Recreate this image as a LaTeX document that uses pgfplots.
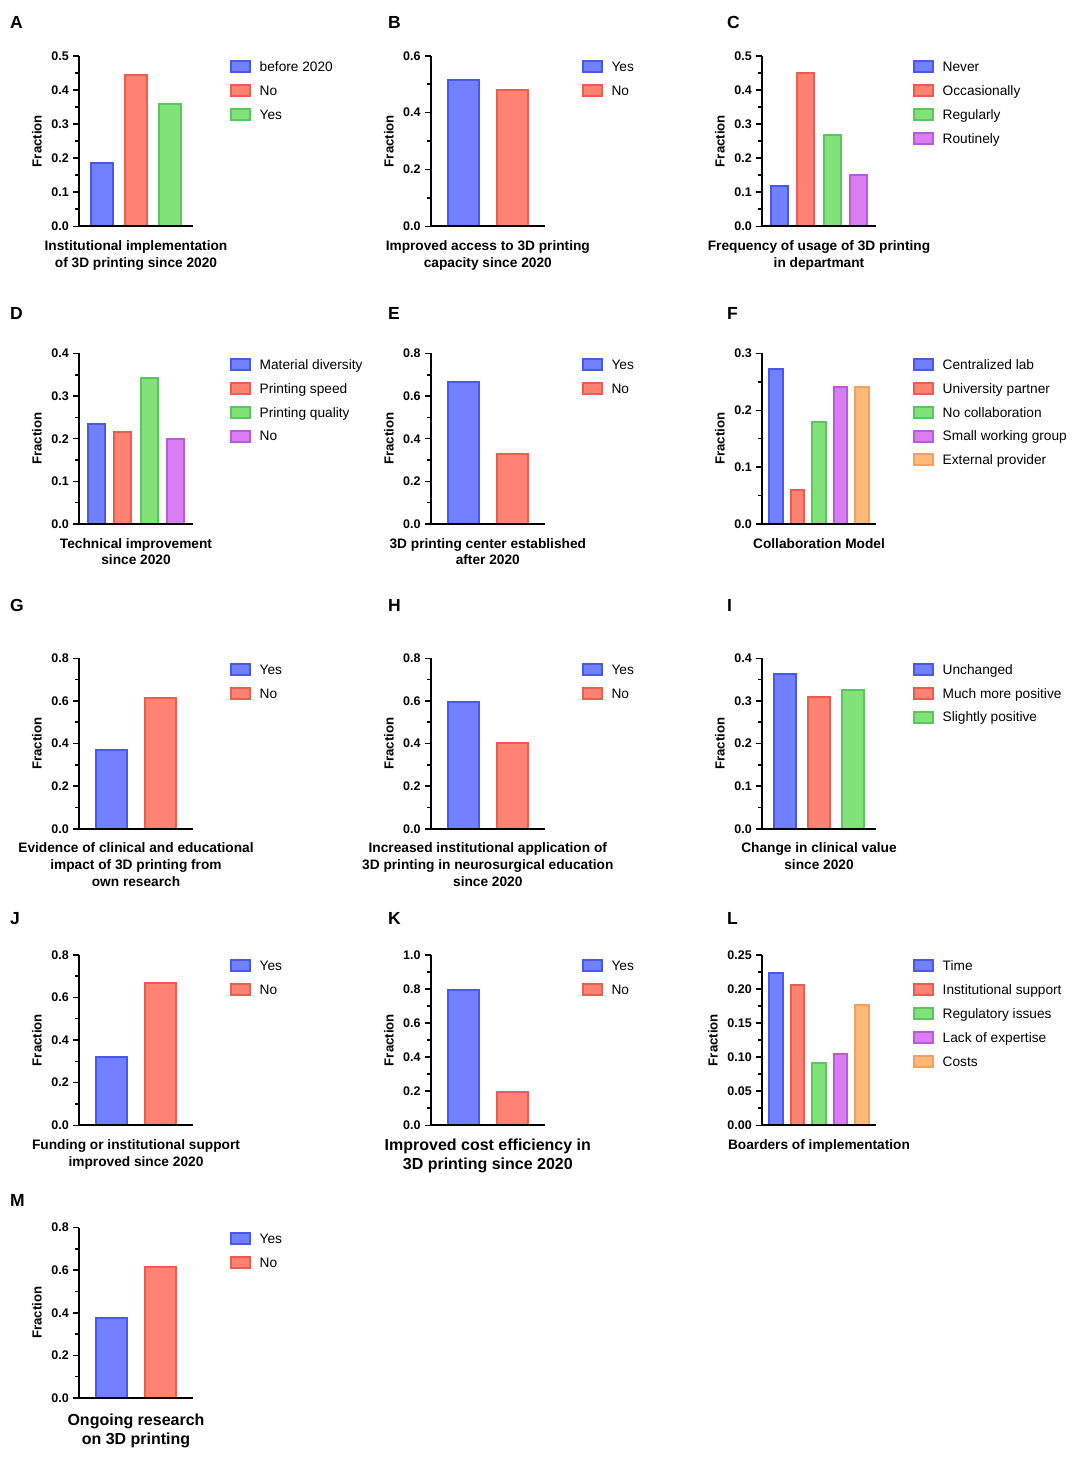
\documentclass[border=0pt]{standalone}
\usepackage{fontspec}
\setmainfont{Liberation Sans}
\usepackage{pgfplots}
\pgfplotsset{compat=1.18}
\definecolor{blueF}{RGB}{112,128,255}\definecolor{blueE}{RGB}{72,88,235}
\definecolor{redF}{RGB}{255,130,115}\definecolor{redE}{RGB}{238,92,80}
\definecolor{greenF}{RGB}{130,226,122}\definecolor{greenE}{RGB}{88,200,92}
\definecolor{purpF}{RGB}{216,126,242}\definecolor{purpE}{RGB}{188,88,222}
\definecolor{orangeF}{RGB}{255,186,122}\definecolor{orangeE}{RGB}{245,160,92}
\newcommand\ticksize{\fontsize{12.5}{14}\selectfont\bfseries}
\newcommand\labsize{\fontsize{13.7}{16.8}\selectfont\bfseries}
\newcommand\fracsize{\fontsize{13.2}{15}\selectfont\bfseries}
\newcommand\legsize{\fontsize{13.7}{16}\selectfont}
\newcommand\biglab{\fontsize{16}{19}\selectfont\bfseries}
\newcommand\letsize{\fontsize{17.5}{20}\selectfont\bfseries}
\pgfplotsset{
  bar/.style={ybar, bar width=0.64, bar shift=0pt, line width=2pt,
    legend image code/.code={\draw[##1, line width=2pt] (0pt,-5.5pt) rectangle (19pt,5.5pt);}},
  bB/.style={bar, fill=blueF, draw=blueE},
  bR/.style={bar, fill=redF, draw=redE},
  bG/.style={bar, fill=greenF, draw=greenE},
  bP/.style={bar, fill=purpF, draw=purpE},
  bO/.style={bar, fill=orangeF, draw=orangeE},
  panel/.style={
    scale only axis, width=114pt, height=170.5pt, anchor=south west,
    xmin=-0.6667, ymin=0, enlargelimits=false, clip=false, axis on top,
    axis x line*=bottom, axis y line*=left,
    axis line style={line width=2pt, black},
    xtick=\empty, minor y tick num=1,
    tick align=outside, major tick length=6pt, minor tick length=4pt,
    major tick style={line width=1.5pt, black},
    minor tick style={line width=1.5pt, black},
    yticklabel style={font=\ticksize, inner sep=0pt, xshift=-4pt},
    /pgf/number format/.cd, fixed, fixed zerofill, precision=1, assume math mode=true, /pgfplots/.cd,
    ylabel={Fraction},
    ylabel style={at={(axis description cs:-0.3684,0.5)}, anchor=center, font=\fracsize},
    xlabel style={at={(axis description cs:0.5,0)}, anchor=north, yshift=-14pt, align=center, font=\labsize, inner sep=0pt},
    legend style={at={(axis description cs:1.3246,0.9736)}, anchor=north west, draw=none, fill=none,
      font=\legsize, inner sep=0pt, row sep=10.8pt, column sep=8.5pt,
      nodes={inner sep=0pt, text height=11.4pt, text depth=1.6pt}},
    legend cell align=left,
  },
}
\begin{document}
\begin{tikzpicture}
\useasboundingbox (0,0) rectangle (1080pt,1458pt);
% panel letters
\foreach \l/\x/\y in {A/10/1429.2, B/388/1429.2, C/727/1429.2,
                      D/10/1138.7, E/388/1138.7, F/727/1138.7,
                      G/10/846.7, H/388/846.7, I/727/846.7,
                      J/10/533.7, K/388/533.7, L/727/533.7, M/10/251.7}
  \node[anchor=base west, inner sep=0pt, font=\letsize] at (\x pt,\y pt) {\l};

% A
\begin{axis}[panel, at={(79pt,1231.7pt)}, xmax=2.6667, ymax=0.5, ytick={0,0.1,0.2,0.3,0.4,0.5},
  xlabel={Institutional implementation\\of 3D printing since 2020}]
\addplot[bB] coordinates {(0,0.187)}; \addlegendentry{before 2020}
\addplot[bR] coordinates {(1,0.444)}; \addlegendentry{No}
\addplot[bG] coordinates {(2,0.358)}; \addlegendentry{Yes}
\end{axis}
% B
\begin{axis}[panel, at={(430.8pt,1231.7pt)}, xmax=1.6667, ymax=0.6, ytick={0,0.2,0.4,0.6},
  xlabel={Improved access to 3D printing\\capacity since 2020}]
\addplot[bB] coordinates {(0,0.514)}; \addlegendentry{Yes}
\addplot[bR] coordinates {(1,0.479)}; \addlegendentry{No}
\end{axis}
% C
\begin{axis}[panel, at={(762pt,1231.7pt)}, xmax=3.6667, ymax=0.5, ytick={0,0.1,0.2,0.3,0.4,0.5},
  xlabel={Frequency of usage of 3D printing\\in departmant}]
\addplot[bB] coordinates {(0,0.119)}; \addlegendentry{Never}
\addplot[bR] coordinates {(1,0.450)}; \addlegendentry{Occasionally}
\addplot[bG] coordinates {(2,0.269)}; \addlegendentry{Regularly}
\addplot[bP] coordinates {(3,0.149)}; \addlegendentry{Routinely}
\end{axis}
% D
\begin{axis}[panel, at={(79pt,934pt)}, xmax=3.6667, ymax=0.4, ytick={0,0.1,0.2,0.3,0.4},
  xlabel={Technical improvement\\since 2020}]
\addplot[bB] coordinates {(0,0.234)}; \addlegendentry{Material diversity}
\addplot[bR] coordinates {(1,0.216)}; \addlegendentry{Printing speed}
\addplot[bG] coordinates {(2,0.343)}; \addlegendentry{Printing quality}
\addplot[bP] coordinates {(3,0.199)}; \addlegendentry{No}
\end{axis}
% E
\begin{axis}[panel, at={(430.8pt,934pt)}, xmax=1.6667, ymax=0.8, ytick={0,0.2,0.4,0.6,0.8},
  xlabel={3D printing center established\\after 2020}]
\addplot[bB] coordinates {(0,0.666)}; \addlegendentry{Yes}
\addplot[bR] coordinates {(1,0.330)}; \addlegendentry{No}
\end{axis}
% F
\begin{axis}[panel, at={(762pt,934pt)}, xmax=4.6667, ymax=0.3, ytick={0,0.1,0.2,0.3},
  xlabel={Collaboration Model}]
\addplot[bB] coordinates {(0,0.272)}; \addlegendentry{Centralized lab}
\addplot[bR] coordinates {(1,0.059)}; \addlegendentry{University partner}
\addplot[bG] coordinates {(2,0.180)}; \addlegendentry{No collaboration}
\addplot[bP] coordinates {(3,0.241)}; \addlegendentry{Small working group}
\addplot[bO] coordinates {(4,0.241)}; \addlegendentry{External provider}
\end{axis}
% G
\begin{axis}[panel, at={(79pt,629.2pt)}, xmax=1.6667, ymax=0.8, ytick={0,0.2,0.4,0.6,0.8},
  xlabel={Evidence of clinical and educational\\impact of 3D printing from\\own research}]
\addplot[bB] coordinates {(0,0.372)}; \addlegendentry{Yes}
\addplot[bR] coordinates {(1,0.616)}; \addlegendentry{No}
\end{axis}
% H
\begin{axis}[panel, at={(430.8pt,629.2pt)}, xmax=1.6667, ymax=0.8, ytick={0,0.2,0.4,0.6,0.8},
  xlabel={Increased institutional application of\\3D printing in neurosurgical education\\since 2020}]
\addplot[bB] coordinates {(0,0.593)}; \addlegendentry{Yes}
\addplot[bR] coordinates {(1,0.401)}; \addlegendentry{No}
\end{axis}
% I
\begin{axis}[panel, at={(762pt,629.2pt)}, xmax=2.6667, ymax=0.4, ytick={0,0.1,0.2,0.3,0.4},
  xlabel={Change in clinical value\\since 2020}]
\addplot[bB] coordinates {(0,0.362)}; \addlegendentry{Unchanged}
\addplot[bR] coordinates {(1,0.309)}; \addlegendentry{Much more positive}
\addplot[bG] coordinates {(2,0.326)}; \addlegendentry{Slightly positive}
\end{axis}
% J
\begin{axis}[panel, at={(79pt,332.7pt)}, xmax=1.6667, ymax=0.8, ytick={0,0.2,0.4,0.6,0.8},
  xlabel={Funding or institutional support\\improved since 2020}]
\addplot[bB] coordinates {(0,0.321)}; \addlegendentry{Yes}
\addplot[bR] coordinates {(1,0.670)}; \addlegendentry{No}
\end{axis}
% K
\begin{axis}[panel, at={(430.8pt,332.7pt)}, xmax=1.6667, ymax=1.0, ytick={0,0.2,0.4,0.6,0.8,1.0},
  xlabel={Improved cost efficiency in\\3D printing since 2020},
  xlabel style={font=\biglab, yshift=0.7pt}]
\addplot[bB] coordinates {(0,0.796)}; \addlegendentry{Yes}
\addplot[bR] coordinates {(1,0.196)}; \addlegendentry{No}
\end{axis}
% L
\begin{axis}[panel, at={(762pt,332.7pt)}, xmax=4.6667, ymax=0.25, ytick={0,0.05,0.1,0.15,0.2,0.25},
  /pgf/number format/precision=2,
  ylabel style={at={(axis description cs:-0.43,0.5)}},
  xlabel={Boarders of implementation}]
\addplot[bB] coordinates {(0,0.224)}; \addlegendentry{Time}
\addplot[bR] coordinates {(1,0.205)}; \addlegendentry{Institutional support}
\addplot[bG] coordinates {(2,0.091)}; \addlegendentry{Regulatory issues}
\addplot[bP] coordinates {(3,0.105)}; \addlegendentry{Lack of expertise}
\addplot[bO] coordinates {(4,0.1765)}; \addlegendentry{Costs}
\end{axis}
% M
\begin{axis}[panel, at={(79pt,60pt)}, xmax=1.6667, ymax=0.8, ytick={0,0.2,0.4,0.6,0.8},
  xlabel={Ongoing research\\on 3D printing},
  xlabel style={font=\biglab, yshift=-1.3pt}]
\addplot[bB] coordinates {(0,0.377)}; \addlegendentry{Yes}
\addplot[bR] coordinates {(1,0.617)}; \addlegendentry{No}
\end{axis}
\end{tikzpicture}
\end{document}
